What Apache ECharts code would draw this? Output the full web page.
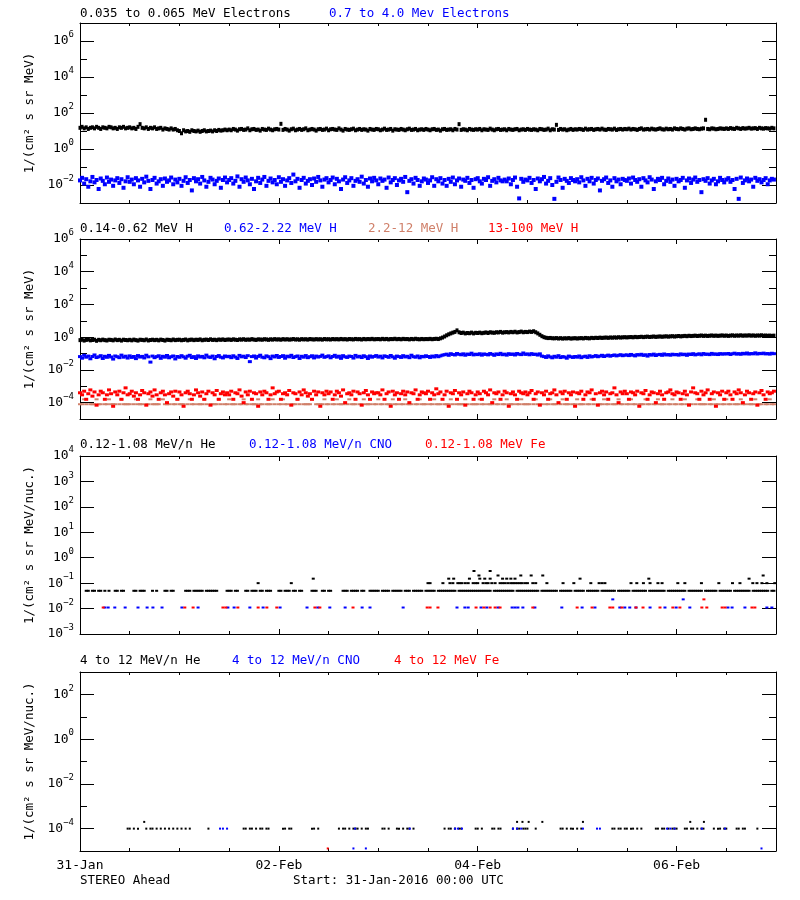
<!DOCTYPE html>
<html><head><meta charset="utf-8">
<script src="https://cdn.jsdelivr.net/npm/echarts@6/dist/echarts.min.js"></script>
<style>html,body{margin:0;padding:0;background:#fff}#c{width:800px;height:900px}</style>
</head><body><div id="c"></div>
<script>
// ---------------- DATA ----------------
const STEP_H = 0.5; // regular series: one value every 30 minutes from 31-Jan 00:00
const dayTickHours = [0, 48, 96, 144];
const dayTickLabels = ['31-Jan', '02-Feb', '04-Feb', '06-Feb'];
const halfDayTickHours = [12, 24, 36, 60, 72, 84, 108, 120, 132, 156];

// Panel 1: 0.035-0.065 MeV electrons (black)
const elecLow = [
15,17,14,16,13,15,16,14,17,15,13,16,15,14,17,16,14,15,13,16,15,17,14,15,
16,14,15,13,17,24,15,14,16,13,15,14,16,13,14,15,12,14,13,12,14,12,13,11,
10,7.5,11,9.5,10,9,11,10,9.5,10.5,9,10,11,9.5,10,10.5,9.5,11,10,11.5,10.5,11,12,11,
12,11,13,12,10.5,12.5,13,11.5,12,14,11,12.5,13,11.5,12,10.5,13,12,11.5,13.5,12,11,12.5,13,
12,25,11.5,13,12,10.5,12.5,13.5,11,12,13,11.5,12.5,14,11,12,13,12,10.5,12.5,13,11.5,12,13.5,
11,12.5,13,12,11.5,14,12,10.5,13,12,11.5,12.5,13.5,11,12,13,11.5,12.5,12,10.5,13,12,11.5,13,
12.5,11,12,13.5,11.5,12,13,10.5,12.5,12,11.5,13,12,11,12.5,13.5,11.5,12,13,11,12,12.5,11.5,13,
12,11,12.5,13,11.5,12,10.5,12.5,13,11.5,12,12.5,11,13,12,24,11.5,12.5,12,11,13,12,11.5,12.5,
12,13,11,12.5,12,11.5,13.5,12,11,12.5,13,11.5,12,12.5,11,13,12,11.5,12.5,13,11,12,12.5,11.5,
13,12,11.5,12.5,12,11,13,12.5,11.5,12,13.5,11,12.5,12,22,11.5,13,12,12.5,11,12,13,11.5,12.5,
12,13,12.5,11.5,13.5,12,12.5,13,11.5,12.5,13,12,13.5,12,11.5,13,12.5,12,13.5,11.5,12.5,13,12,13,
12.5,13.5,12,13,12.5,11.5,13,14,12,12.5,13,12,13.5,12.5,12,13,14,12.5,12,13.5,12.5,13,12,14,
13,12.5,14,13,12,13.5,14,12.5,13,14,13,12.5,13.5,14,42,13,12.5,14,13.5,12.5,13,14,13.5,13,
14,13,14.5,13.5,13,15,14,13,14.5,13.5,14,15,13.5,14,14.5,13,15,14,13.5,14.5,14,13.5,15,14];
// Panel 1: 0.7-4.0 MeV electrons (blue)
const elecHigh = [
.018,.025,.012,.021,.008,.016,.028,.014,.019,.006,.023,.017,.011,.026,.015,.02,.009,.018,.024,.013,.021,.007,.016,.027,
.015,.02,.011,.024,.018,.008,.022,.014,.029,.017,.006,.019,.025,.012,.016,.021,.009,.023,.015,.018,.026,.011,.02,.014,
.022,.009,.017,.027,.013,.019,.005,.024,.016,.021,.012,.028,.018,.008,.015,.025,.02,.011,.017,.023,.007,.019,.026,.014,
.019,.024,.012,.017,.03,.008,.021,.015,.026,.018,.011,.022,.006,.016,.025,.013,.02,.028,.009,.017,.023,.014,.019,.011,
.027,.015,.021,.009,.018,.024,.013,.038,.016,.022,.007,.019,.025,.012,.017,.021,.01,.023,.015,.028,.018,.008,.02,.024,
.014,.019,.026,.011,.022,.016,.006,.02,.027,.013,.018,.024,.009,.017,.021,.015,.029,.012,.019,.008,.023,.016,.025,.018,
.011,.023,.017,.02,.007,.026,.014,.019,.024,.01,.018,.022,.015,.028,.004,.017,.021,.012,.025,.019,.009,.016,.023,.02,
.013,.018,.027,.009,.021,.016,.024,.012,.019,.009,.022,.015,.026,.011,.018,.023,.008,.02,.017,.025,.013,.019,.007,.021,
.024,.016,.012,.022,.019,.027,.009,.017,.021,.014,.025,.018,.016,.02,.016,.023,.011,.019,.026,.008,.0018,.022,.015,.02,
.018,.025,.013,.019,.006,.023,.016,.021,.028,.012,.017,.024,.01,.0017,.015,.026,.019,.007,.022,.017,.013,.024,.019,.016,
.021,.014,.027,.018,.009,.022,.016,.025,.012,.019,.023,.005,.017,.021,.026,.013,.018,.008,.024,.016,.02,.011,.022,.019,
.017,.023,.012,.026,.019,.015,.021,.008,.024,.018,.014,.027,.02,.006,.016,.022,.019,.025,.011,.017,.023,.015,.02,.009,
.022,.016,.019,.025,.007,.018,.023,.013,.02,.026,.015,.019,.004,.021,.017,.024,.012,.018,.022,.011,.016,.025,.019,.014,
.02,.024,.015,.019,.006,.022,.0017,.026,.013,.018,.023,.016,.02,.008,.025,.017,.021,.014,.019,.024,.011,.018,.022,.02];

// Panel 2: 0.14-0.62 MeV H (black)
const protA = [
.66,.7,.62,.68,.72,.64,.67,.7,.6,.69,.65,.71,.66,.63,.7,.68,.64,.72,.66,.69,.62,.7,.67,.65,
.69,.64,.71,.66,.62,.7,.68,.65,.72,.63,.67,.7,.66,.69,.64,.71,.67,.62,.7,.68,.65,.72,.66,.69,
.7,.65,.68,.72,.64,.69,.71,.66,.7,.68,.73,.65,.69,.71,.67,.74,.68,.7,.66,.72,.69,.73,.67,.71,
.72,.68,.74,.7,.67,.73,.71,.75,.69,.72,.7,.76,.71,.68,.74,.72,.7,.75,.73,.69,.74,.71,.76,.72,
.74,.7,.76,.72,.75,.71,.73,.77,.72,.74,.7,.76,.73,.75,.71,.77,.74,.72,.76,.73,.75,.71,.77,.74,
.75,.72,.77,.74,.76,.73,.78,.74,.76,.72,.77,.75,.73,.78,.75,.76,.72,.78,.74,.77,.75,.79,.74,.76,
.77,.74,.79,.75,.78,.73,.77,.76,.8,.75,.78,.74,.79,.76,.77,.73,.78,.75,.8,.76,.74,.78,.75,.77,
.76,.79,.75,.78,.8,.77,.85,.95,1.1,1.3,1.5,1.7,1.9,2.1,2.6,2.0,1.8,1.9,1.7,1.8,1.75,1.9,1.7,1.85,
1.8,1.9,1.75,1.85,1.95,1.8,2.0,1.9,1.85,2.0,1.95,2.1,1.9,2.0,2.05,1.95,2.1,2.0,2.15,1.95,2.05,2.2,2.0,2.1,
2.05,2.2,2.1,2.3,2.0,1.7,1.4,1.15,1.0,.92,.88,.9,.86,.85,.88,.83,.87,.82,.86,.84,.88,.82,.85,.87,
.83,.86,.88,.84,.9,.87,.85,.91,.88,.92,.89,.94,.9,.93,.95,.91,.96,.93,.97,.94,.99,.95,.98,1.0,
.97,1.0,1.02,.98,1.04,1.0,1.03,1.06,1.01,1.05,1.08,1.03,1.06,1.1,1.04,1.08,1.11,1.06,1.1,1.13,1.08,1.12,1.15,1.1,
1.14,1.18,1.12,1.16,1.2,1.15,1.22,1.17,1.2,1.24,1.18,1.22,1.26,1.2,1.24,1.19,1.23,1.27,1.21,1.25,1.2,1.24,1.28,1.22,
1.26,1.2,1.25,1.29,1.22,1.27,1.24,1.3,1.23,1.27,1.25,1.3,1.24,1.28,1.22,1.27,1.25,1.3,1.23,1.26,1.22,1.25,1.2,1.24];
// Panel 2: 0.62-2.22 MeV H (blue)
const protB = [
.065,.052,.078,.06,.07,.048,.066,.082,.057,.063,.074,.05,.068,.059,.077,.062,.046,.071,.064,.056,.08,.06,.069,.053,
.072,.058,.066,.049,.075,.061,.067,.054,.079,.063,.03,.07,.056,.065,.073,.051,.068,.06,.076,.055,.064,.071,.047,.066,
.059,.074,.063,.052,.069,.078,.057,.065,.05,.072,.061,.067,.055,.08,.062,.058,.07,.048,.066,.075,.06,.054,.071,.064,
.068,.056,.073,.061,.05,.077,.063,.069,.057,.074,.032,.065,.071,.053,.067,.079,.06,.055,.072,.064,.049,.07,.062,.076,
.058,.066,.074,.052,.069,.063,.078,.057,.065,.071,.05,.068,.06,.075,.056,.064,.073,.054,.07,.061,.067,.08,.059,.065,
.072,.055,.066,.078,.06,.069,.051,.074,.063,.058,.07,.066,.053,.077,.062,.068,.057,.073,.064,.05,.071,.06,.067,.075,
.061,.069,.054,.072,.066,.059,.076,.063,.052,.07,.065,.058,.074,.062,.068,.056,.079,.064,.06,.071,.055,.067,.063,.073,
.066,.058,.07,.062,.075,.064,.072,.08,.085,.092,.078,.098,.088,.082,.1,.09,.084,.096,.079,.093,.087,.105,.083,.091,
.086,.097,.08,.094,.089,.083,.1,.09,.078,.095,.087,.103,.085,.092,.08,.098,.088,.094,.082,.1,.091,.086,.108,.089,
.095,.084,.099,.088,.092,.081,.096,.07,.065,.058,.072,.062,.055,.068,.06,.074,.057,.065,.061,.052,.07,.063,.058,.066,
.06,.071,.056,.064,.069,.058,.073,.062,.067,.075,.064,.07,.078,.066,.073,.08,.069,.076,.082,.072,.078,.085,.074,.08,
.083,.075,.088,.079,.072,.086,.081,.09,.077,.084,.07,.087,.08,.092,.076,.085,.089,.078,.094,.082,.087,.079,.091,.084,
.088,.08,.095,.085,.091,.078,.093,.087,.098,.083,.09,.096,.084,.1,.089,.093,.086,.102,.09,.095,.087,.099,.092,.097,
.094,.101,.088,.097,.105,.092,.099,.09,.103,.095,.108,.093,.1,.096,.11,.094,.102,.098,.106,.095,.1,.092,.104,.098];
// Panel 2: 2.2-12 MeV H (salmon); 0 = no counts
const protC = [
8e-5,8e-5,1.6e-4,8e-5,0,8e-5,8e-5,8e-5,1.6e-4,8e-5,8e-5,0,8e-5,8e-5,1.6e-4,8e-5,8e-5,8e-5,0,8e-5,1.6e-4,8e-5,8e-5,8e-5,
8e-5,0,8e-5,1.6e-4,8e-5,8e-5,8e-5,0,8e-5,8e-5,1.6e-4,8e-5,8e-5,8e-5,8e-5,0,1.6e-4,8e-5,8e-5,8e-5,0,8e-5,8e-5,1.6e-4,
8e-5,8e-5,8e-5,0,8e-5,1.6e-4,8e-5,8e-5,0,8e-5,8e-5,8e-5,1.6e-4,8e-5,0,8e-5,8e-5,8e-5,8e-5,1.6e-4,8e-5,0,8e-5,8e-5,
1.6e-4,8e-5,8e-5,8e-5,0,8e-5,8e-5,1.6e-4,8e-5,8e-5,0,8e-5,8e-5,8e-5,1.6e-4,8e-5,8e-5,0,8e-5,8e-5,8e-5,1.6e-4,8e-5,0,
8e-5,8e-5,1.6e-4,8e-5,8e-5,0,8e-5,8e-5,8e-5,1.6e-4,8e-5,0,8e-5,8e-5,8e-5,8e-5,1.6e-4,0,8e-5,8e-5,8e-5,8e-5,1.6e-4,8e-5,
8e-5,0,8e-5,8e-5,1.6e-4,8e-5,8e-5,8e-5,0,8e-5,1.6e-4,8e-5,8e-5,8e-5,0,8e-5,8e-5,1.6e-4,8e-5,8e-5,8e-5,0,8e-5,8e-5,
1.6e-4,8e-5,8e-5,0,8e-5,8e-5,8e-5,1.6e-4,8e-5,8e-5,0,8e-5,8e-5,1.6e-4,8e-5,8e-5,8e-5,0,8e-5,8e-5,1.6e-4,8e-5,8e-5,8e-5,
0,8e-5,8e-5,1.6e-4,8e-5,8e-5,8e-5,0,8e-5,8e-5,8e-5,1.6e-4,8e-5,0,8e-5,8e-5,8e-5,8e-5,1.6e-4,8e-5,0,8e-5,8e-5,8e-5,
8e-5,1.6e-4,8e-5,8e-5,0,8e-5,8e-5,8e-5,1.6e-4,8e-5,8e-5,0,8e-5,8e-5,1.6e-4,8e-5,8e-5,8e-5,0,8e-5,8e-5,1.6e-4,8e-5,8e-5,
8e-5,8e-5,0,8e-5,1.6e-4,8e-5,8e-5,8e-5,0,8e-5,8e-5,1.6e-4,8e-5,8e-5,8e-5,0,8e-5,1.6e-4,8e-5,8e-5,8e-5,0,8e-5,8e-5,
1.6e-4,8e-5,8e-5,8e-5,0,8e-5,8e-5,1.6e-4,8e-5,0,8e-5,8e-5,8e-5,1.6e-4,8e-5,8e-5,0,8e-5,8e-5,8e-5,1.6e-4,8e-5,8e-5,0,
8e-5,8e-5,1.6e-4,8e-5,8e-5,0,8e-5,8e-5,8e-5,1.6e-4,8e-5,8e-5,0,8e-5,8e-5,1.6e-4,8e-5,8e-5,8e-5,0,8e-5,8e-5,1.6e-4,8e-5,
8e-5,0,8e-5,8e-5,1.6e-4,8e-5,8e-5,8e-5,0,8e-5,1.6e-4,8e-5,8e-5,8e-5,8e-5,0,8e-5,8e-5,1.6e-4,8e-5,8e-5,0,8e-5,8e-5,
1.6e-4,8e-5,8e-5,0,8e-5,8e-5,8e-5,1.6e-4,8e-5,8e-5,0,8e-5,8e-5,8e-5,1.6e-4,8e-5,8e-5,8e-5,0,8e-5,8e-5,1.6e-4,8e-5,8e-5];
// Panel 2: 13-100 MeV H (red)
const protD = [
4e-4,3e-4,5e-4,1.6e-4,3.5e-4,6e-4,2.5e-4,4.5e-4,7e-5,3e-4,5e-4,4e-4,1.6e-4,3e-4,6e-4,3.5e-4,6e-5,4.5e-4,3e-4,5e-4,1.6e-4,4e-4,8e-4,3e-4,
3.5e-4,5e-4,2.5e-4,4e-4,1.6e-4,3e-4,5.5e-4,4e-4,7e-5,3.5e-4,4.5e-4,2.5e-4,6e-4,3e-4,1.6e-4,4e-4,5e-4,3e-4,1e-4,3.5e-4,4.5e-4,2.5e-4,5e-4,1.6e-4,
4.5e-4,3e-4,6e-5,4e-4,5e-4,3.5e-4,1.6e-4,3e-4,6e-4,4e-4,2.5e-4,4.5e-4,1.6e-4,3.5e-4,5e-4,7e-5,4e-4,3e-4,5.5e-4,1.6e-4,3.5e-4,4.5e-4,3e-4,4e-4,
3e-4,5e-4,1.6e-4,4e-4,3.5e-4,6e-4,2.5e-4,1e-4,4.5e-4,3e-4,5e-4,1.6e-4,4e-4,3.5e-4,6e-5,4.5e-4,3e-4,5e-4,4e-4,1.6e-4,3e-4,8e-4,3.5e-4,4.5e-4,
5e-4,1.6e-4,3.5e-4,4e-4,3e-4,5.5e-4,7e-5,4e-4,3.5e-4,1.6e-4,4.5e-4,3e-4,6e-4,4e-4,2.5e-4,3.5e-4,1.6e-4,5e-4,3e-4,4.5e-4,6e-5,4e-4,3e-4,5e-4,
3.5e-4,4.5e-4,1.6e-4,3e-4,5e-4,4e-4,2.5e-4,6e-4,1e-4,3.5e-4,4e-4,3e-4,5e-4,1.6e-4,4.5e-4,3.5e-4,7e-5,4e-4,5.5e-4,3e-4,1.6e-4,4.5e-4,3.5e-4,4e-4,
4e-4,3e-4,6e-4,1.6e-4,3.5e-4,4.5e-4,6e-5,5e-4,3e-4,4e-4,1.6e-4,3.5e-4,5e-4,3e-4,4.5e-4,1e-4,4e-4,3.5e-4,6e-4,1.6e-4,3e-4,4.5e-4,4e-4,3.5e-4,
5e-4,1.6e-4,4e-4,3e-4,7e-4,3.5e-4,4.5e-4,1.6e-4,3e-4,5e-4,6e-5,4e-4,3.5e-4,5.5e-4,1.6e-4,4e-4,3e-4,4.5e-4,7e-5,3.5e-4,5e-4,4e-4,1.6e-4,3e-4,
4.5e-4,3.5e-4,1.6e-4,5e-4,4e-4,3e-4,6e-4,1e-4,4e-4,3.5e-4,4.5e-4,1.6e-4,3e-4,5e-4,4e-4,6e-5,3.5e-4,4.5e-4,3e-4,1.6e-4,5e-4,4e-4,3.5e-4,4.5e-4,
3e-4,4e-4,5.5e-4,1.6e-4,3.5e-4,4.5e-4,7e-5,4e-4,3e-4,5e-4,1.6e-4,3.5e-4,4e-4,6e-4,3e-4,1e-4,4.5e-4,3.5e-4,5e-4,1.6e-4,4e-4,3e-4,4.5e-4,6e-5,
4e-4,3.5e-4,5e-4,1.6e-4,3e-4,4.5e-4,4e-4,6e-4,1.6e-4,3.5e-4,7e-5,4e-4,5e-4,3e-4,4.5e-4,1.6e-4,3.5e-4,4e-4,8e-4,3e-4,1e-4,4.5e-4,3.5e-4,5e-4,
3.5e-4,1.6e-4,4.5e-4,4e-4,3e-4,5e-4,6e-5,4e-4,3.5e-4,5.5e-4,1.6e-4,3e-4,4.5e-4,4e-4,1e-4,3.5e-4,5e-4,3e-4,1.6e-4,4e-4,4.5e-4,6e-4,3.5e-4,3e-4,
4.5e-4,4e-4,1.6e-4,3.5e-4,5e-4,3e-4,7e-5,4.5e-4,8e-4,4e-4,3.5e-4,1.6e-4,5e-4,3e-4,4e-4,6e-4,1.6e-4,3.5e-4,4.5e-4,6e-5,4e-4,3e-4,5e-4,1.6e-4,
4e-4,5e-4,3e-4,1.6e-4,4.5e-4,3.5e-4,6e-4,4e-4,1e-4,3e-4,5e-4,4e-4,1.6e-4,3.5e-4,4.5e-4,7e-5,4e-4,5.5e-4,3e-4,1.6e-4,4.5e-4,3.5e-4,4e-4,5e-4];

// Panel 3: 0.12-1.08 MeV/n He (black), one-count level; 0 = no counts
const heLow = [
0,0,0,.05,.05,0,.05,.05,0,.05,.05,0,.05,0,.05,0,0,.05,.05,0,.05,.05,0,0,
0,0,.05,.05,0,.05,.05,.05,0,0,0,.05,0,.05,0,0,0,.05,.05,0,.05,.05,0,0,
0,0,0,.05,.05,.05,0,.05,.05,.05,.05,.05,0,.05,.05,.05,.05,.05,.05,0,0,0,0,.05,
.05,.05,0,.05,.05,0,0,0,.05,.05,0,.05,.05,.05,0,.05,.05,0,.05,.05,.05,0,0,0,
.05,.05,0,.05,.05,.05,0,.05,.05,0,.05,.05,0,0,0,0,.05,.05,.05,0,0,.05,.05,0,
.05,.05,0,0,0,0,0,.05,.05,.05,0,.05,.05,.05,.05,0,.05,.05,0,0,.05,.05,.05,.05,
.05,0,.05,.05,.05,.05,0,.05,.05,.05,.05,.05,0,.05,.05,.05,0,.05,.05,.05,.05,.05,0,.05,
.05,.05,.05,.05,0,.05,.05,.05,.05,.05,.05,.05,.05,.05,0,.05,.05,.05,.05,.05,.05,.05,.05,.05,
.05,.05,.05,.05,.05,.05,.05,0,.05,.05,.05,.05,.05,.05,.05,.05,.05,.05,0,.05,.05,.05,.05,.05,
.05,.05,.05,.05,.05,.05,0,.05,.05,.05,.05,.05,.05,.05,.05,0,.05,.05,.05,.05,.05,.05,0,.05,
.05,.05,.05,.05,0,.05,.05,.05,.05,.05,.05,0,.05,.05,.05,.05,.05,.05,.05,0,.05,.05,.05,.05,
.05,.05,0,.05,.05,.05,.05,.05,.05,.05,0,.05,.05,.05,.05,.05,.05,.05,.05,0,.05,.05,.05,.05,
.05,.05,.05,.05,.05,0,.05,.05,.05,.05,.05,.05,.05,0,.05,.05,.05,.05,.05,.05,0,.05,.05,.05,
.05,.05,.05,0,.05,.05,.05,.05,.05,.05,.05,.05,0,.05,.05,.05,.05,.05,.05,.05,.05,0,.05,.05];
// Panel 3: He samples above the one-count level (hour, value)
const heHighT = [43,51,56.3,84,84.5,87.6,89,89.3,90,90.2,91.2,91.7,92.2,93,93.7,94,94.9,95.1,95.5,96,96.3,96.5,97.3,97.7,98,98.5,99,99,99.4,100.2,100.9,101.4,102,102,102.6,103,103.3,104,104,104.5,105,105,105.6,106.2,106.4,106.7,107.4,108,108.9,109.3,110,111.7,112.7,116.6,119.2,120.7,123.3,125.3,126,126.7,133,134.4,136,137.3,137.6,139.5,140.5,144.3,146,150,154.2,157.5,159.3,161.5,162.4,163.4,164.6,164.9,165.8,167.7];
const heHighV = [.1,.1,.15,.1,.1,.1,.15,.1,.1,.15,.1,.1,.1,.1,.1,.15,.1,.3,.1,.1,.2,.15,.1,.15,.1,.1,.15,.3,.1,.1,.2,.1,.1,.15,.1,.15,.1,.1,.15,.1,.1,.15,.1,.1,.2,.1,.1,.1,.2,.1,.1,.2,.1,.1,.1,.15,.1,.1,.1,.1,.1,.1,.1,.15,.1,.1,.1,.1,.1,.1,.1,.1,.1,.15,.1,.1,.1,.2,.1,.1];
// Panel 3: CNO (blue) and Fe (red), (hour, value)
const cnoLowT = [6,6.8,8.4,10.9,14,16.2,17.6,19.8,24.6,28.5,35.7,37.2,41,44.2,48.3,54.8,57.4,60.3,64,68.1,70,78,91,92.9,93.7,96.8,98.2,100.9,104.3,105,105.7,106.9,109.8,116.3,121.2,124.3,128.6,130.3,131.5,132.7,134.2,137.6,141.2,143.9,145.6,147.2,156.4,157.4,160.5,165.8,167];
const cnoLowV = [.011,.011,.011,.011,.011,.011,.011,.011,.011,.011,.011,.011,.011,.011,.011,.011,.011,.011,.011,.011,.011,.011,.011,.011,.011,.011,.011,.011,.011,.011,.011,.011,.011,.011,.011,.011,.023,.011,.011,.011,.011,.011,.011,.011,.023,.011,.011,.011,.011,.011,.011];
const feLowT = [5.6,25.3,27.3,34.5,35.2,38.1,43,45.1,47.5,56.7,57.9,65.9,83.8,84.5,86.4,95.6,97.5,99,100.2,101.4,109.3,120,123.6,127.9,128.6,130.8,134.2,135.9,140,143.1,144.8,150.1,150.6,151.3,155,155.7,162.2,162.9];
const feLowV = [.011,.011,.011,.011,.011,.011,.011,.011,.011,.011,.011,.011,.011,.011,.011,.011,.011,.011,.011,.011,.011,.011,.011,.011,.011,.011,.011,.011,.011,.011,.011,.011,.023,.011,.011,.011,.011,.011];

// Panel 4: 4-12 MeV/n He (black); 0 = no counts
const heHigh = [
0,0,0,0,0,0,0,0,0,0,0,0,0,0,0,0,0,0,0,0,0,0,0,1e-4,
1e-4,0,1e-4,0,1e-4,0,0,0,1e-4,0,1e-4,1e-4,0,1e-4,0,1e-4,0,1e-4,0,1e-4,0,1e-4,0,1e-4,
0,1e-4,0,1e-4,0,1e-4,0,0,0,0,0,0,0,0,1e-4,0,0,0,0,0,0,0,0,0,
0,0,0,0,0,0,0,1e-4,1e-4,0,1e-4,1e-4,0,1e-4,0,1e-4,1e-4,0,1e-4,1e-4,0,0,0,0,
0,0,1e-4,1e-4,0,1e-4,1e-4,0,0,0,0,0,0,0,0,0,1e-4,1e-4,0,1e-4,0,0,0,0,
0,0,0,0,0,1e-4,0,1e-4,1e-4,0,1e-4,0,1e-4,1e-4,1e-4,0,1e-4,0,1e-4,1e-4,0,0,0,0,
0,0,1e-4,1e-4,0,1e-4,0,0,0,1e-4,1e-4,0,1e-4,0,1e-4,1e-4,0,1e-4,0,0,0,0,0,0,
0,0,0,0,0,0,0,0,1e-4,0,1e-4,1e-4,0,1e-4,0,1e-4,1e-4,0,0,0,0,0,0,1e-4,
1e-4,0,1e-4,0,0,0,0,1e-4,1e-4,0,1e-4,1e-4,0,0,0,0,0,1e-4,0,1e-4,1e-4,0,1e-4,1e-4,
1e-4,0,0,0,1e-4,0,0,0,0,0,0,0,0,0,0,0,1e-4,1e-4,0,1e-4,0,1e-4,1e-4,0,
1e-4,0,1e-4,0,0,0,0,0,0,0,0,0,0,0,0,0,0,1e-4,1e-4,0,1e-4,1e-4,0,1e-4,
1e-4,0,1e-4,1e-4,0,1e-4,0,1e-4,0,0,0,0,0,0,1e-4,1e-4,0,1e-4,1e-4,0,1e-4,0,1e-4,1e-4,
1e-4,0,0,0,1e-4,1e-4,0,1e-4,1e-4,0,1e-4,0,1e-4,1e-4,0,0,0,0,1e-4,0,1e-4,1e-4,0,1e-4,
1e-4,0,0,0,0,1e-4,1e-4,0,1e-4,1e-4,0,0,0,0,0,1e-4,0,0,0,0,0,0,0,0];
const heHigh2T = [15.5,105.5,106.8,108.3,111.6,121.4,147.3,150.6];
const heHigh2V = [2e-4,2e-4,2e-4,2e-4,2e-4,2e-4,2e-4,2e-4];
const cnoHighT = [33.8,34.5,35.5,66.4,79.6,90.5,91.2,92.2,104.5,105.5,106.5,121.4,124.8,125.5,141.7,142.5,143.5,150.1,155.7,66,69,164.5];
const cnoHighV = [1e-4,1e-4,1e-4,1e-4,1e-4,1e-4,1e-4,1e-4,1e-4,1e-4,1e-4,1e-4,1e-4,1e-4,1e-4,1e-4,1e-4,1e-4,1e-4,1.3e-5,1.3e-5,1.3e-5];
const feHighT = [59.8];
const feHighV = [1.3e-5];

// Axis tick values
const p1Major = [1e-2,1,1e2,1e4,1e6], p1Minor = [1e-1,10,1e3,1e5];
const p2Major = [1e-4,1e-2,1,1e2,1e4,1e6], p2Minor = [1e-3,1e-1,10,1e3,1e5];
const p3Major = [1e-3,1e-2,1e-1,1,10,1e2,1e3,1e4], p3Minor = [];
const p4Major = [1e-4,1e-2,1,1e2], p4Minor = [1e-3,1e-1,10];

// ---------------- CHART ----------------
const F = 'DejaVu Sans Mono';
const BLUE = '#0000ff', RED = '#ff0000', SALMON = '#d0806a';
const panels = [
  {top: 23,  height: 180, min: 1e-3, max: 1e7, major: p1Major, minor: p1Minor, name: '1/(cm\u00b2 s sr MeV)'},
  {top: 239, height: 180, min: 1e-5, max: 1e6, major: p2Major, minor: p2Minor, name: '1/(cm\u00b2 s sr MeV)'},
  {top: 456, height: 178, min: 1e-3, max: 1e4, major: p3Major, minor: p3Minor, name: '1/(cm\u00b2 s sr MeV/nuc.)'},
  {top: 672, height: 179, min: 1e-5, max: 1e3, major: p4Major, minor: p4Minor, name: '1/(cm\u00b2 s sr MeV/nuc.)'}
];

function expLabel(v) {
  const e = Math.round(Math.log10(v));
  return '{b|10}{e|' + (e < 0 ? '\u2212' + (-e) : e) + '}';
}
const grid = [], xAxis = [], yAxis = [];
panels.forEach((p, i) => {
  grid.push({left: 80, width: 696, top: p.top, height: p.height, containLabel: false});
  const isLast = i === panels.length - 1;
  const xa = (pos, ticks, len, line, lab) => ({
    type: 'value', gridIndex: i, position: pos, min: 0, max: 168,
    axisLine: {show: line, onZero: false, lineStyle: {color: '#000', width: 1}},
    axisTick: {show: true, inside: true, length: len, customValues: ticks, lineStyle: {color: '#000', width: 1}},
    axisLabel: lab ? {show: true, customValues: dayTickHours, margin: 8, color: '#000', fontFamily: F, fontSize: 13,
      formatter: v => dayTickLabels[dayTickHours.indexOf(v)]} : {show: false},
    splitLine: {show: false}
  });
  xAxis.push(xa('bottom', dayTickHours, 5, true, isLast));
  xAxis.push(xa('bottom', halfDayTickHours, 3, false, false));
  xAxis.push(xa('top', dayTickHours, 5, true, false));
  xAxis.push(xa('top', halfDayTickHours, 3, false, false));
  const ya = (pos, ticks, len, line, lab) => ({
    type: 'log', logBase: 10, gridIndex: i, position: pos, min: p.min, max: p.max,
    axisLine: {show: line, onZero: false, lineStyle: {color: '#000', width: 1}},
    axisTick: {show: ticks.length > 0, inside: true, length: len, customValues: ticks.length ? ticks : undefined, lineStyle: {color: '#000', width: 1}},
    axisLabel: lab ? {show: true, customValues: p.major, margin: 6, formatter: expLabel,
      rich: {
        b: {fontFamily: F, fontSize: 13, color: '#000', lineHeight: 13, padding: [4, 0, 4, 0]},
        e: {fontFamily: F, fontSize: 9, color: '#000', lineHeight: 9, padding: [0, 0, 12, 0]}
      }} : {show: false},
    splitLine: {show: false},
    name: lab ? p.name : '', nameLocation: 'middle', nameGap: 33,
    nameTextStyle: {fontFamily: F, fontSize: 12.5, color: '#000'}
  });
  yAxis.push(ya('left', p.major, 14, true, true));
  yAxis.push(ya('left', p.minor, 7, false, false));
  yAxis.push(ya('right', p.major, 14, true, false));
  yAxis.push(ya('right', p.minor, 7, false, false));
});

const regular = vals => { const out = []; vals.forEach((v, i) => { if (v > 0) out.push([i * STEP_H, v]); }); return out; };
const pairs = (ts, vs) => ts.map((t, i) => [t, vs[i]]);
const sc = (name, data, color, gi, size) => ({
  type: 'scatter', name, data, xAxisIndex: 4 * gi, yAxisIndex: 4 * gi,
  symbol: 'rect', symbolSize: size, itemStyle: {color, opacity: 1}, silent: true, animation: false
});
const series = [
  sc('0.035 to 0.065 MeV Electrons', regular(elecLow), '#000', 0, [3, 4]),
  sc('0.7 to 4.0 Mev Electrons', regular(elecHigh), BLUE, 0, [4, 4]),
  sc('0.14-0.62 MeV H', regular(protA), '#000', 1, [3, 4]),
  sc('0.62-2.22 MeV H', regular(protB), BLUE, 1, [4, 3]),
  sc('2.2-12 MeV H', regular(protC), SALMON, 1, [4, 2]),
  sc('13-100 MeV H', regular(protD), RED, 1, [4, 3]),
  sc('0.12-1.08 MeV/n He', regular(heLow).concat(pairs(heHighT, heHighV)), '#000', 2, [3, 2]),
  sc('0.12-1.08 MeV/n CNO', pairs(cnoLowT, cnoLowV), BLUE, 2, [3, 2]),
  sc('0.12-1.08 MeV Fe', pairs(feLowT, feLowV), RED, 2, [3, 2]),
  sc('4 to 12 MeV/n He', regular(heHigh).concat(pairs(heHigh2T, heHigh2V)), '#000', 3, [2, 2]),
  sc('4 to 12 MeV/n CNO', pairs(cnoHighT, cnoHighV), BLUE, 3, [2, 2]),
  sc('4 to 12 MeV Fe', pairs(feHighT, feHighV), RED, 3, [2, 2])
];

const t = (text, left, top, color) => ({text, left, top, padding: 0,
  textStyle: {color, fontFamily: F, fontSize: 12.5, fontWeight: 'normal'}});
const title = [
  t('0.035 to 0.065 MeV Electrons', 80, 7, '#000'),
  t('0.7 to 4.0 Mev Electrons', 329, 7, BLUE),
  t('0.14-0.62 MeV H', 80, 222, '#000'),
  t('0.62-2.22 MeV H', 224, 222, BLUE),
  t('2.2-12 MeV H', 368, 222, SALMON),
  t('13-100 MeV H', 488, 222, RED),
  t('0.12-1.08 MeV/n He', 80, 438.5, '#000'),
  t('0.12-1.08 MeV/n CNO', 249, 438.5, BLUE),
  t('0.12-1.08 MeV Fe', 425, 438.5, RED),
  t('4 to 12 MeV/n He', 80, 654.5, '#000'),
  t('4 to 12 MeV/n CNO', 232, 654.5, BLUE),
  t('4 to 12 MeV Fe', 394, 654.5, RED),
  t('STEREO Ahead', 80, 874, '#000'),
  t('Start: 31-Jan-2016 00:00 UTC', 293, 874, '#000')
];

const chart = echarts.init(document.getElementById('c'), null, {renderer: 'canvas'});
chart.setOption({backgroundColor: '#fff', animation: false, title, grid, xAxis, yAxis, series});
</script></body></html>
